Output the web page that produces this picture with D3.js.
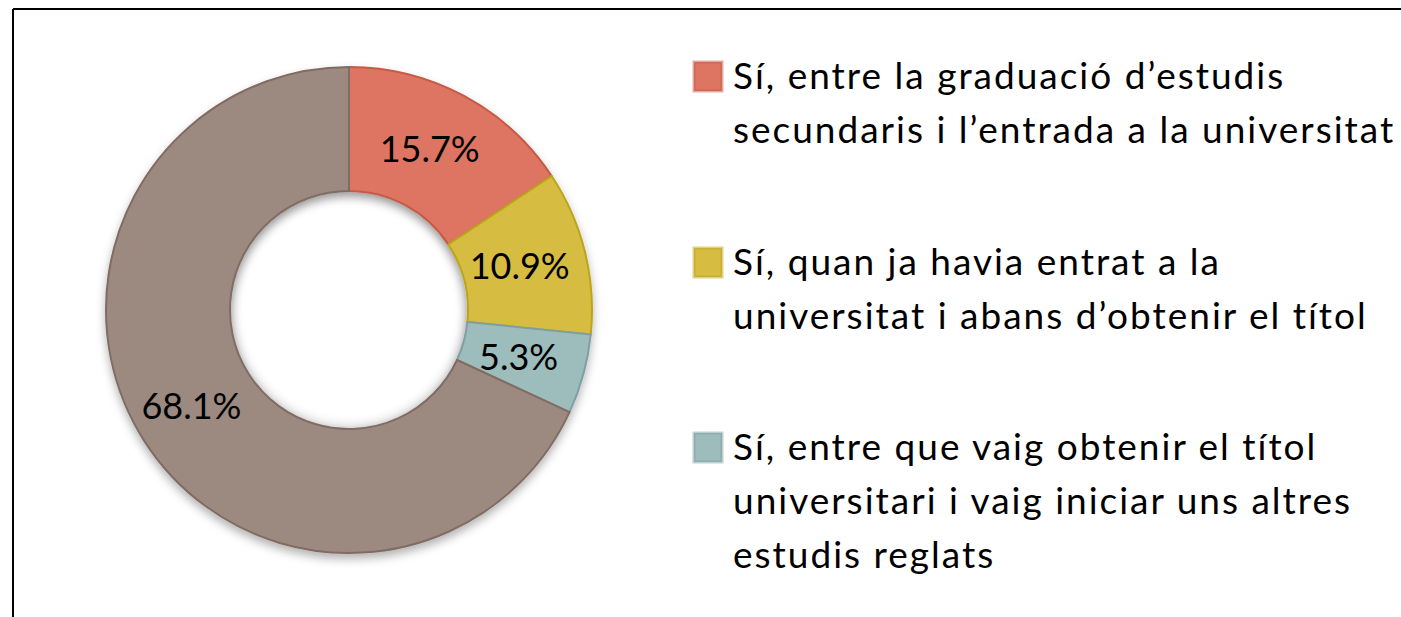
<!DOCTYPE html>
<html>
<head>
<meta charset="utf-8">
<script src="https://cdn.jsdelivr.net/npm/d3@7"></script>
<style>
  body { margin: 0; background: #fff; }
  svg text { font-family: Lato, "Open Sans", sans-serif; fill: #000; }
</style>
</head>
<body>
<svg id="chart"></svg>
<script>
// dades del gràfic
const categories = [
    ["Sí, entre la graduació d’estudis", "secundaris i l’entrada a la universitat"],
    ["Sí, quan ja havia entrat a la", "universitat i abans d’obtenir el títol"],
    ["Sí, entre que vaig obtenir el títol", "universitari i vaig iniciar uns altres", "estudis reglats"],
    ["No"]
];
const values = [15.7, 10.9, 5.3, 68.1];
const labels = ["15.7%", "10.9%", "5.3%", "68.1%"];
const colors = ["#dd7562", "#d6bd42", "#9dbcbc", "#9c8a80"];
const strokes = ["#c65a45", "#bca41a", "#7f9fa2", "#806c62"];

const W = 1401, H = 617;
let svg = d3.select("#chart").attr("width", W).attr("height", H);

// marc
svg.append("line").attr("x1", 13).attr("y1", 9).attr("x2", W).attr("y2", 9)
    .style("stroke", "#000").style("stroke-width", 2);
svg.append("line").attr("x1", 13).attr("y1", 9).attr("x2", 13).attr("y2", H)
    .style("stroke", "#000").style("stroke-width", 2);

// ombra
let defs = svg.append("defs");
let f = defs.append("filter").attr("id", "shadow")
    .attr("x", "-20%").attr("y", "-20%").attr("width", "140%").attr("height", "140%");
f.append("feDropShadow").attr("dx", 0).attr("dy", 5).attr("stdDeviation", 5)
    .attr("flood-color", "#000").attr("flood-opacity", 0.3);

const cx = 349, cy = 310;
const rOut = 243, rIn = 119;

let pie = d3.pie().sort(null).value(d => d);
let arc = d3.arc().innerRadius(rIn).outerRadius(rOut);
let arcs = pie(values);

let donut = svg.append("g").attr("transform", `translate(${cx},${cy})`);

donut.append("g").attr("filter", "url(#shadow)")
    .selectAll("path")
    .data(arcs)
    .join("path")
    .attr("d", arc)
    .style("fill", (d, i) => colors[i])
    .style("stroke", (d, i) => strokes[i])
    .style("stroke-width", 2)
    .style("stroke-linejoin", "round");

// petit bisell interior
let g2 = defs.append("radialGradient").attr("id", "hole");
g2.append("stop").attr("offset", "88%").attr("stop-color", "#fff").attr("stop-opacity", 0);
g2.append("stop").attr("offset", "100%").attr("stop-color", "#000").attr("stop-opacity", 0.12);
donut.append("circle").attr("r", rIn - 1).style("fill", "url(#hole)");

donut.selectAll("text.lbl")
    .data(arcs)
    .join("text")
    .attr("class", "lbl")
    .attr("transform", d => `translate(${arc.centroid(d)})`)
    .attr("text-anchor", "middle")
    .attr("dx", -5)
    .attr("dy", "0.33em")
    .style("font-size", "36px")
    .text((d, i) => labels[i]);

// llegenda
const legendTop = [76, 262, 447];
const lineH = 54;
let legend = svg.append("g");
categories.slice(0, 3).forEach((lines, i) => {
    let item = legend.append("g").attr("transform", `translate(693,${legendTop[i]})`);
    item.append("rect")
        .attr("x", 1).attr("y", -14)
        .attr("width", 28).attr("height", 29)
        .style("fill", colors[i])
        .style("stroke", strokes[i])
        .style("stroke-opacity", 0.5)
        .style("stroke-width", 3);
    let t = item.append("text")
        .attr("x", 40).attr("y", 0)
        .style("font-size", "37px")
        .style("letter-spacing", "2px");
    lines.forEach((ln, j) => {
        t.append("tspan").attr("x", 40).attr("y", j * lineH).attr("dy", "0.36em").text(ln);
    });
});
</script>
</body>
</html>
